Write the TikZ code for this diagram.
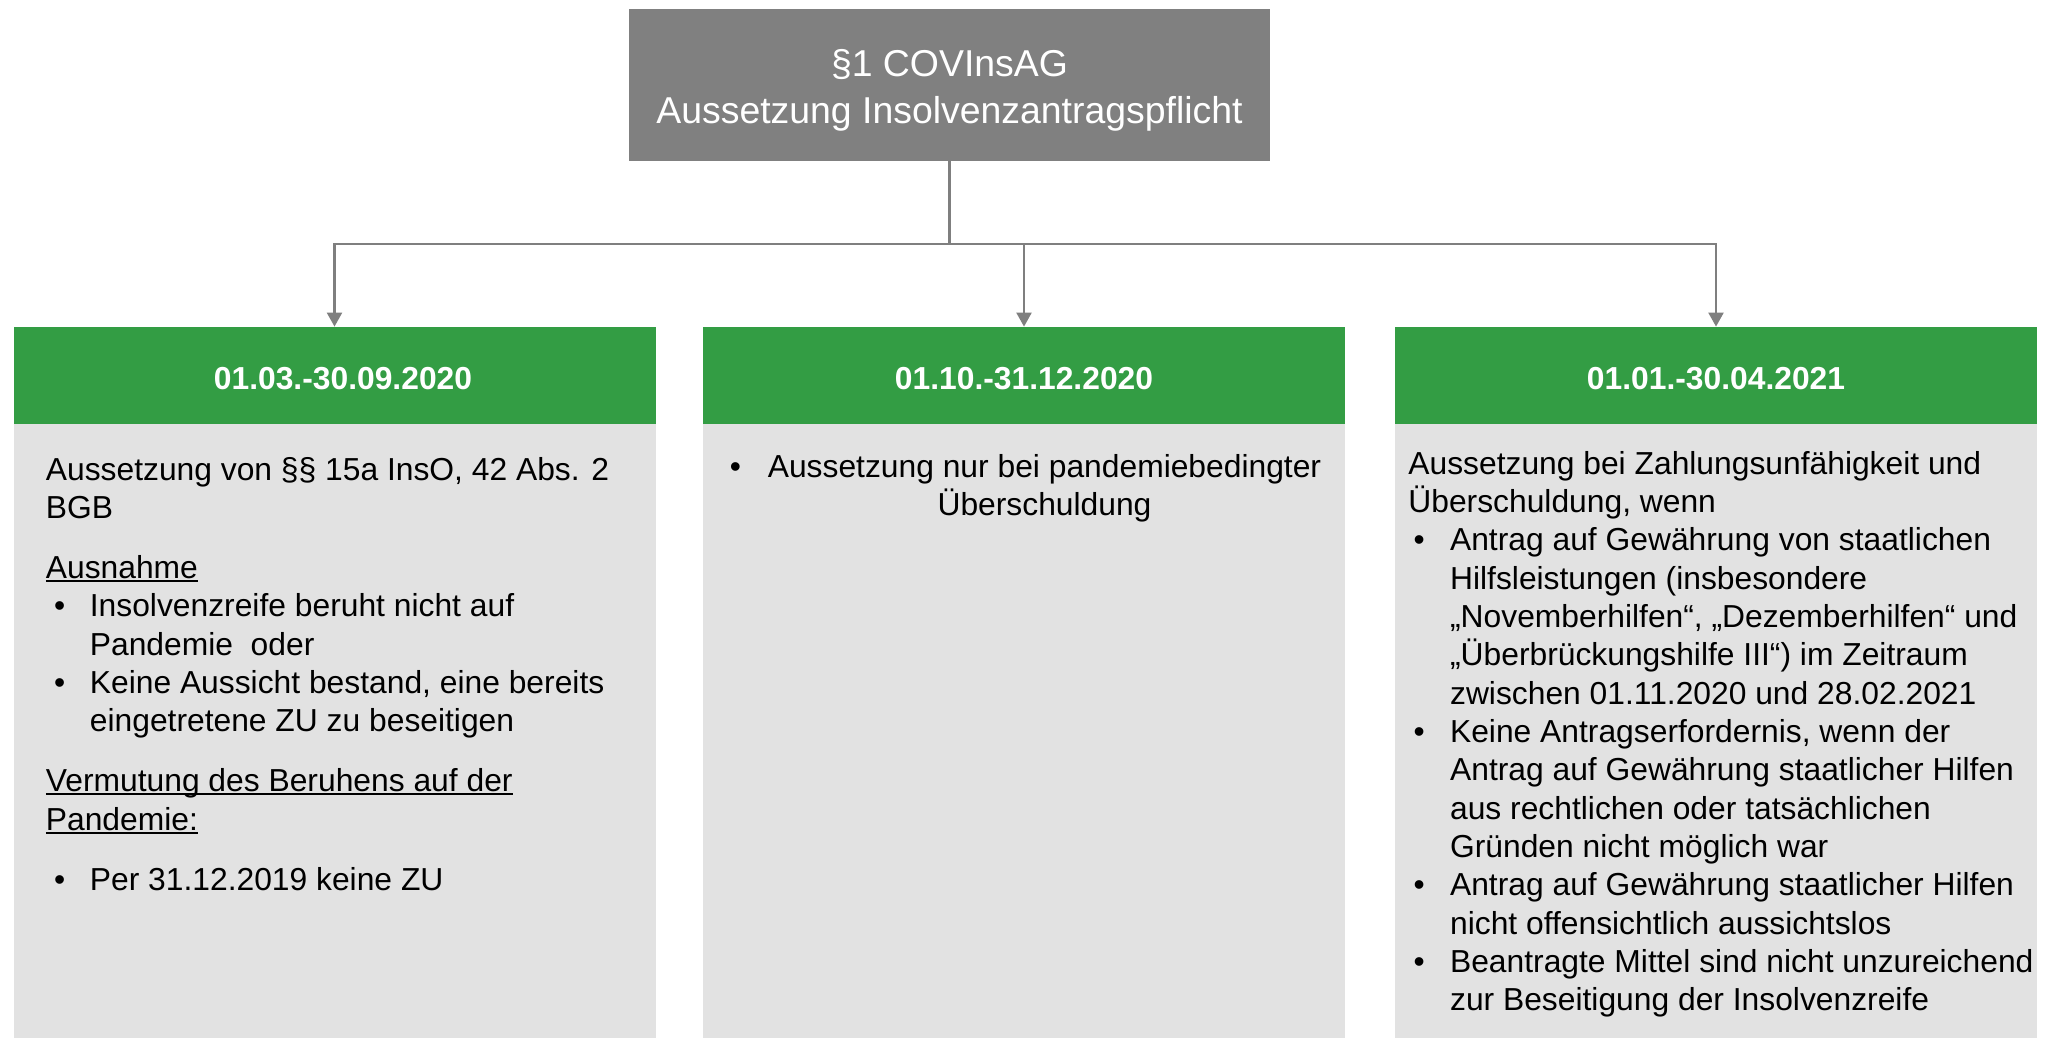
\documentclass[tikz,border=0pt]{standalone}
\usepackage{fontspec}
\setmainfont{Liberation Sans}
\usetikzlibrary{arrows.meta}
\definecolor{hdrgreen}{RGB}{51,157,68}
\definecolor{bodygray}{RGB}{226,226,226}
\definecolor{topgray}{RGB}{128,128,128}
\definecolor{linegray}{RGB}{127,127,127}
\newlength\myulw
\newcommand\myul[1]{\settowidth\myulw{#1}\rlap{\rule[-1.7pt]{\myulw}{0.9pt}}#1}
\newcommand\bulA{\makebox[22pt][l]{\hspace{4.1pt}•}}
\newcommand\indA{\hspace*{22pt}}
\newcommand\bulC{\makebox[20.85pt][l]{\hspace{2.55pt}•}}
\newcommand\indC{\hspace*{20.85pt}}
\newcommand\firststrut{\rule{0pt}{15pt}}
\begin{document}
\begin{tikzpicture}[x=0.5pt,y=-0.5pt,
  titlebox/.style={fill=topgray, text=white, minimum width=320.5pt, minimum height=76pt, inner sep=0pt, font=\fontsize{18.7}{23.3}\selectfont},
  hdr/.style={fill=hdrgreen, text=white, minimum width=321pt, minimum height=48.5pt, inner sep=0pt, text height=14pt, text depth=0pt, font=\bfseries\fontsize{15.9}{19}\selectfont},
  bodybox/.style={fill=bodygray, minimum width=321pt, minimum height=307pt, inner sep=0pt},
  bodytext/.style={inner sep=0pt, align=left, font=\fontsize{15.9}{19.17}\selectfont, anchor=north west},
  conn/.style={draw=linegray, line width=1.1pt},
  arr/.style={conn, -{Triangle[width=7.5pt,length=7pt]}}
]
\useasboundingbox[fill=white] (0,0) rectangle (2054,1038);

\node[titlebox] (top) at (949.5,85) {\parbox{300pt}{\centering\vspace*{5.2pt}§1 COVInsAG\\Aussetzung Insolvenzantragspflicht}};

\node[bodybox] (b1) at (334.5,731) {};
\node[bodybox] (b2) at (1024,731) {};
\node[bodybox] (b3) at (1716,731) {};

\node[hdr] (h1) at (334.5,375.5) {\hspace{8.5pt}01.03.-30.09.2020};
\node[hdr] (h2) at (1024,375.5) {01.10.-31.12.2020};
\node[hdr] (h3) at (1716,375.5) {01.01.-30.04.2021};

\coordinate (jun) at (949.5,244);
\draw[conn] (top.south) -- (jun);
\draw[arr] (jun) -| (h1.north);
\draw[arr] (jun) -| (h2.north);
\draw[arr] (jun) -| (h3.north);

\node[bodytext] (t1) at (45.5,449.6) {\firststrut Aussetzung von §§ 15a InsO, 42 Abs. 2\\
BGB\\[10.85pt]
\myul{Ausnahme}\\
\bulA Insolvenzreife beruht nicht auf\\
\indA Pandemie\ \ oder\\
\bulA Keine Aussicht bestand, eine bereits\\
\indA eingetretene ZU zu beseitigen\\[10.85pt]
\myul{Vermutung des Beruhens auf der}\\
\myul{Pandemie:}\\[10.85pt]
\bulA Per 31.12.2019 keine ZU};

\node[bodytext, anchor=north, align=center] (t2) at (1044.5,446.7) {\firststrut\llap{•\hspace{13.4pt}}Aussetzung nur bei pandemiebedingter\\
Überschuldung};

\node[bodytext] (t3) at (1408,443.7) {\firststrut Aussetzung bei Zahlungsunfähigkeit und\\
Überschuldung, wenn\\
\bulC Antrag auf Gewährung von staatlichen\\
\indC Hilfsleistungen (insbesondere\\
\indC „Novemberhilfen“, „Dezemberhilfen“ und\\
\indC „Überbrückungshilfe III“) im Zeitraum\\
\indC zwischen 01.11.2020 und 28.02.2021\\
\bulC Keine Antragserfordernis, wenn der\\
\indC Antrag auf Gewährung staatlicher Hilfen\\
\indC aus rechtlichen oder tatsächlichen\\
\indC Gründen nicht möglich war\\
\bulC Antrag auf Gewährung staatlicher Hilfen\\
\indC nicht offensichtlich aussichtslos\\
\bulC Beantragte Mittel sind nicht unzureichend\\
\indC zur Beseitigung der Insolvenzreife};
\end{tikzpicture}
\end{document}
